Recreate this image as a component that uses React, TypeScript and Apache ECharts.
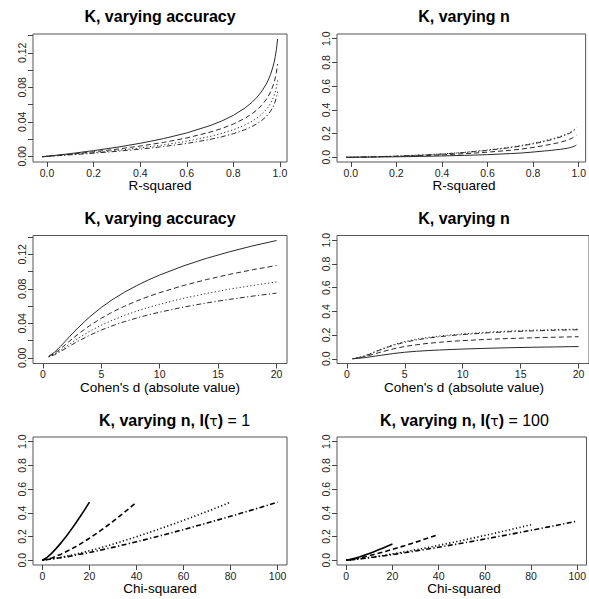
import React, { useEffect, useRef } from "react";
import * as echarts from "echarts";

// ---------- data ----------
const r2 = [-0.02, 0, 0.1, 0.2, 0.3, 0.4, 0.5, 0.6, 0.7, 0.75, 0.8, 0.85, 0.88, 0.9, 0.92, 0.94, 0.95, 0.96, 0.97, 0.975, 0.98, 0.985, 0.99];
const accR2Solid = [-0.0006, 0, 0.0031, 0.0066, 0.0105, 0.0151, 0.0205, 0.0271, 0.0356, 0.0409, 0.0475, 0.056, 0.0626, 0.068, 0.0746, 0.0831, 0.0885, 0.0951, 0.1036, 0.1089, 0.1155, 0.124, 0.136];
const accR2Dashed = [-0.0005, 0, 0.0024, 0.0052, 0.0083, 0.0119, 0.0161, 0.0213, 0.028, 0.0322, 0.0374, 0.0441, 0.0493, 0.0535, 0.0587, 0.0654, 0.0696, 0.0748, 0.0815, 0.0857, 0.0909, 0.0976, 0.107];
const accR2Dotted = [-0.0004, 0, 0.002, 0.0043, 0.0068, 0.0098, 0.0132, 0.0175, 0.023, 0.0265, 0.0308, 0.0363, 0.0405, 0.044, 0.0483, 0.0538, 0.0572, 0.0615, 0.067, 0.0705, 0.0748, 0.0803, 0.088];
const accR2DotDash = [-0.0003, 0, 0.0017, 0.0036, 0.0058, 0.0083, 0.0113, 0.0149, 0.0196, 0.0226, 0.0262, 0.0309, 0.0345, 0.0375, 0.0411, 0.0458, 0.0488, 0.0524, 0.0571, 0.0601, 0.0637, 0.0684, 0.075];

const nR2Solid = [-0.0002, 0, 0.002, 0.004, 0.007, 0.011, 0.016, 0.022, 0.031, 0.036, 0.044, 0.053, 0.058, 0.063, 0.067, 0.073, 0.076, 0.081, 0.086, 0.089, 0.093, 0.097, 0.103];
const nR2Dashed = [-0.0003, 0, 0.003, 0.007, 0.013, 0.02, 0.03, 0.043, 0.059, 0.069, 0.083, 0.099, 0.11, 0.118, 0.127, 0.138, 0.144, 0.152, 0.161, 0.166, 0.171, 0.177, 0.186];
const nR2Dotted = [-0.0004, 0, 0.005, 0.01, 0.019, 0.028, 0.042, 0.061, 0.085, 0.1, 0.118, 0.139, 0.154, 0.165, 0.177, 0.191, 0.199, 0.208, 0.22, 0.226, 0.234, 0.241, 0.25];
const nR2DotDash = [-0.0004, 0, 0.004, 0.009, 0.017, 0.027, 0.04, 0.058, 0.081, 0.096, 0.113, 0.133, 0.148, 0.159, 0.171, 0.185, 0.193, 0.202, 0.214, 0.22, 0.228, 0.236, 0.245];

const cohenD = [0.5, 1, 1.5, 2, 2.5, 3, 4, 5, 6, 7, 8, 9, 10, 12, 14, 16, 18, 20];
const accDSolid = [0.0018, 0.0066, 0.0132, 0.0204, 0.0277, 0.0347, 0.0474, 0.0584, 0.0679, 0.0762, 0.0835, 0.0901, 0.096, 0.1064, 0.1153, 0.123, 0.1299, 0.136];
const accDDashed = [0.0014, 0.0052, 0.0104, 0.0161, 0.0218, 0.0273, 0.0373, 0.0459, 0.0534, 0.0599, 0.0657, 0.0709, 0.0755, 0.0837, 0.0907, 0.0968, 0.1022, 0.107];
const accDDotted = [0.0012, 0.0043, 0.0085, 0.0132, 0.0179, 0.0225, 0.0307, 0.0378, 0.0439, 0.0493, 0.054, 0.0583, 0.0621, 0.0689, 0.0746, 0.0796, 0.084, 0.088];
const accDDotDash = [0.001, 0.0036, 0.0073, 0.0113, 0.0153, 0.0192, 0.0262, 0.0322, 0.0374, 0.042, 0.046, 0.0497, 0.0529, 0.0587, 0.0636, 0.0678, 0.0716, 0.075];

const nDSolid = [0, 0.004, 0.009, 0.016, 0.023, 0.03, 0.044, 0.055, 0.063, 0.069, 0.074, 0.078, 0.082, 0.088, 0.093, 0.097, 0.1, 0.103];
const nDDashed = [0, 0.007, 0.017, 0.03, 0.044, 0.058, 0.083, 0.104, 0.118, 0.13, 0.139, 0.147, 0.153, 0.163, 0.171, 0.177, 0.182, 0.186];
const nDDotted = [0, 0.01, 0.024, 0.042, 0.063, 0.083, 0.118, 0.145, 0.165, 0.18, 0.192, 0.202, 0.21, 0.224, 0.234, 0.241, 0.246, 0.25];
const nDDotDash = [0, 0.009, 0.022, 0.04, 0.06, 0.079, 0.113, 0.139, 0.159, 0.174, 0.186, 0.196, 0.204, 0.218, 0.228, 0.235, 0.241, 0.245];

const chiX20 = [0, 2, 4, 6, 8, 10, 12, 14, 16, 18, 20];
const chiX40 = [0, 4, 8, 12, 16, 20, 24, 28, 32, 36, 40];
const chiX80 = [0, 8, 16, 24, 32, 40, 48, 56, 64, 72, 80];
const chiX100 = [0, 10, 20, 30, 40, 50, 60, 70, 80, 90, 100];

const chi1Solid = [0, 0.0245, 0.0605, 0.1024, 0.1489, 0.199, 0.2523, 0.3082, 0.3666, 0.4273, 0.49];
const chi1Dashed = [0, 0.0195, 0.0515, 0.0908, 0.1358, 0.1857, 0.2397, 0.2974, 0.3585, 0.4228, 0.49];
const chi1Dotted = [0, 0.024, 0.06, 0.101, 0.148, 0.198, 0.252, 0.308, 0.366, 0.427, 0.49];
const chi1DotDash = [0, 0.0275, 0.0655, 0.1088, 0.1559, 0.206, 0.2588, 0.3137, 0.3708, 0.4295, 0.49];

const chi100Solid = [0, 0.0077, 0.0183, 0.0304, 0.0436, 0.0576, 0.0723, 0.0877, 0.1037, 0.1201, 0.137];
const chi100Dashed = [0, 0.0123, 0.0291, 0.0484, 0.0693, 0.0916, 0.1151, 0.1396, 0.165, 0.1911, 0.218];
const chi100Dotted = [0, 0.0169, 0.0401, 0.0666, 0.0954, 0.1261, 0.1584, 0.1921, 0.227, 0.263, 0.3];
const chi100DotDash = [0, 0.0208, 0.0479, 0.0778, 0.1099, 0.1436, 0.1788, 0.2151, 0.2525, 0.2908, 0.33];

const ticksR2 = [0, 0.2, 0.4, 0.6, 0.8, 1.0];
const ticksD = [0, 5, 10, 15, 20];
const ticksChi = [0, 20, 40, 60, 80, 100];
const ticksK = [0, 0.02, 0.04, 0.06, 0.08, 0.1, 0.12, 0.14];
const labelsK = [0, 0.04, 0.08, 0.12];
const ticksUnit = [0, 0.2, 0.4, 0.6, 0.8, 1.0];

const titles = ["K, varying accuracy", "K, varying n", "K, varying accuracy", "K, varying n"];
const xNames = ["R-squared", "R-squared", "Cohen's d (absolute value)", "Cohen's d (absolute value)", "Chi-squared", "Chi-squared"];

// ---------- layout ----------
const FONT = "'Liberation Sans', Arial, Helvetica, sans-serif";
const W = 254;
const H = 128;
const LEFTS = [33, 337];
const TOPS = [34, 235.5, 437];

const zip = (xs: number[], ys: number[]) => xs.map((x, i) => [x, ys[i]]);

const DASH = {
  solid: "solid",
  dashed: [5, 3],
  dotted: [1.2, 2.4],
  dotdash: [1.2, 2.4, 5, 2.4],
} as any;

export default function App() {
  const ref = useRef<HTMLDivElement>(null);

  useEffect(() => {
    if (!ref.current) return;
    const chart = echarts.init(ref.current, null, { renderer: "svg" });

    const panels = [
      { xr: [-0.0604, 1.0304], yr: [-0.0066, 0.1418], xt: ticksR2, xl: ticksR2, xd: 1, yt: ticksK, yl: labelsK, yd: 2 },
      { xr: [-0.0604, 1.0304], yr: [-0.04, 1.04], xt: ticksR2, xl: ticksR2, xd: 1, yt: ticksUnit, yl: ticksUnit, yd: 1 },
      { xr: [-0.85, 20.9], yr: [-0.0066, 0.1418], xt: ticksD, xl: ticksD, xd: 0, yt: ticksK, yl: labelsK, yd: 2 },
      { xr: [-0.85, 20.9], yr: [-0.04, 1.04], xt: ticksD, xl: ticksD, xd: 0, yt: ticksUnit, yl: ticksUnit, yd: 1 },
      { xr: [-4, 104], yr: [-0.04, 1.04], xt: ticksChi, xl: ticksChi, xd: 0, yt: ticksUnit, yl: ticksUnit, yd: 1 },
      { xr: [-4, 104], yr: [-0.04, 1.04], xt: ticksChi, xl: ticksChi, xd: 0, yt: ticksUnit, yl: ticksUnit, yd: 1 },
    ];

    const grid = panels.map((_, i) => ({
      left: LEFTS[i % 2],
      top: TOPS[Math.floor(i / 2)],
      width: W,
      height: H,
      show: true,
      borderColor: "#555",
      borderWidth: 1,
      backgroundColor: "transparent",
      containLabel: false,
    }));

    const tickStyle = { color: "#444", width: 1 };
    const labelStyle = { fontFamily: FONT, fontSize: 10.5, lineHeight: 11, color: "#222" };

    const xAxis = panels.map((p, i) => ({
      gridIndex: i,
      type: "value",
      position: "bottom",
      min: p.xr[0],
      max: p.xr[1],
      axisLine: { show: false, onZero: false },
      splitLine: { show: false },
      axisTick: { show: true, inside: false, length: 5, customValues: p.xt, lineStyle: tickStyle },
      axisLabel: {
        show: true,
        customValues: p.xl,
        margin: 5,
        formatter: (v: number) => v.toFixed(p.xd),
        ...labelStyle,
      },
    }));

    const yAxis = panels.map((p, i) => ({
      gridIndex: i,
      type: "value",
      position: "left",
      min: p.yr[0],
      max: p.yr[1],
      axisLine: { show: false, onZero: false },
      splitLine: { show: false },
      axisTick: { show: true, inside: false, length: 5, customValues: p.yt, lineStyle: tickStyle },
      axisLabel: {
        show: true,
        customValues: p.yl,
        rotate: 90,
        margin: 6,
        formatter: (v: number) => v.toFixed(p.yd),
        ...labelStyle,
      },
    }));

    const mk = (idx: number, xs: number[], ys: number[], dash: string, thick: boolean) => ({
      type: "line",
      xAxisIndex: idx,
      yAxisIndex: idx,
      data: zip(xs, ys),
      showSymbol: false,
      symbol: "none",
      smooth: false,
      silent: true,
      lineStyle: {
        color: thick ? "#000" : "#2a2a2a",
        width: thick ? 1.6 : 1,
        type: DASH[dash],
        join: "round",
      },
    });

    const series = [
      mk(0, r2, accR2Solid, "solid", false),
      mk(0, r2, accR2Dashed, "dashed", false),
      mk(0, r2, accR2Dotted, "dotted", false),
      mk(0, r2, accR2DotDash, "dotdash", false),
      mk(1, r2, nR2Solid, "solid", false),
      mk(1, r2, nR2Dashed, "dashed", false),
      mk(1, r2, nR2Dotted, "dotted", false),
      mk(1, r2, nR2DotDash, "dotdash", false),
      mk(2, cohenD, accDSolid, "solid", false),
      mk(2, cohenD, accDDashed, "dashed", false),
      mk(2, cohenD, accDDotted, "dotted", false),
      mk(2, cohenD, accDDotDash, "dotdash", false),
      mk(3, cohenD, nDSolid, "solid", false),
      mk(3, cohenD, nDDashed, "dashed", false),
      mk(3, cohenD, nDDotted, "dotted", false),
      mk(3, cohenD, nDDotDash, "dotdash", false),
      mk(4, chiX20, chi1Solid, "solid", true),
      mk(4, chiX40, chi1Dashed, "dashed", true),
      mk(4, chiX80, chi1Dotted, "dotted", true),
      mk(4, chiX100, chi1DotDash, "dotdash", true),
      mk(5, chiX20, chi100Solid, "solid", true),
      mk(5, chiX40, chi100Dashed, "dashed", true),
      mk(5, chiX80, chi100Dotted, "dotted", true),
      mk(5, chiX100, chi100DotDash, "dotdash", true),
    ];

    const graphics: any[] = [];
    const titleY = [16.7, 218.2, 420.5];
    const centers = [160, 464];
    titles.forEach((t, i) => {
      graphics.push({
        type: "text",
        x: centers[i % 2],
        y: titleY[Math.floor(i / 2)],
        style: {
          text: t,
          fontFamily: FONT,
          fontSize: 16,
          fontWeight: "bold",
          fill: "#000",
          textAlign: "center",
          textVerticalAlign: "middle",
        },
      });
    });
    const tauTitle = (x: number, num: string) => ({
      type: "text",
      x,
      y: titleY[2],
      style: {
        text: "{b|K, varying n, I(}{t|τ}{b|)}{r| = " + num + "}",
        textAlign: "left",
        textVerticalAlign: "middle",
        rich: {
          b: { fontFamily: FONT, fontSize: 16, fontWeight: "bold", fill: "#000" },
          t: { fontFamily: "'DejaVu Sans', sans-serif", fontSize: 14, fill: "#000" },
          r: { fontFamily: FONT, fontSize: 16, fill: "#000" },
        },
      },
    });
    graphics.push(tauTitle(99, "1"));
    graphics.push(tauTitle(380, "100"));

    const nameY = [185.5, 387, 588.5];
    xNames.forEach((n, i) => {
      graphics.push({
        type: "text",
        x: centers[i % 2],
        y: nameY[Math.floor(i / 2)],
        style: {
          text: n,
          fontFamily: FONT,
          fontSize: 13.5,
          lineHeight: 13,
          fill: "#000",
          textAlign: "center",
          textVerticalAlign: "middle",
        },
      });
    });

    chart.setOption({
      animation: false,
      backgroundColor: "#fff",
      grid,
      xAxis,
      yAxis,
      series,
      graphic: graphics,
    } as any);

    return () => chart.dispose();
  }, []);

  return (
    <div
      ref={ref}
      style={{ position: "absolute", left: 0, top: 0, width: 589, height: 599, background: "#fff" }}
    />
  );
}
